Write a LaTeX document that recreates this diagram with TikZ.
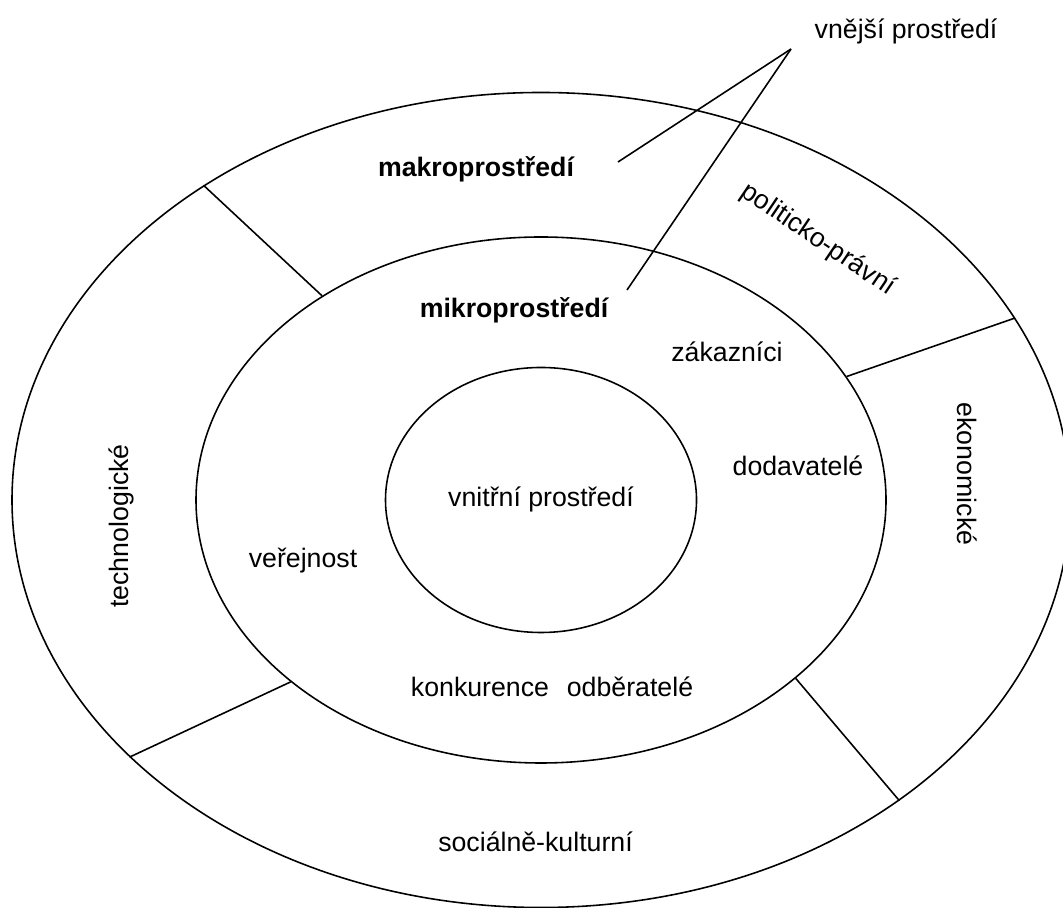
\documentclass[tikz,border=0pt]{standalone}
\usepackage{fontspec}
\setmainfont{Liberation Sans}
\usetikzlibrary{shapes}
\tikzstyle{ring} = [ellipse, draw, line width=0.45pt, inner sep=0pt]
\tikzstyle{word} = [font=\fontsize{7.6}{9}\selectfont, inner sep=0pt, anchor=base]
\tikzstyle{head} = [word, font=\fontsize{7.6}{9}\selectfont\bfseries]
\tikzstyle{line} = [draw, line width=0.45pt]

\begin{document}
\begin{tikzpicture}
    \useasboundingbox (0,0) rectangle (10.63,9.07);
    % Place rings
    \node [ring, minimum width=10.58cm, minimum height=8.15cm] (makro) at (5.41,4.07) {};
    \node [ring, minimum width=6.9cm, minimum height=5.26cm] (mikro) at (5.41,4.07) {};
    \node [ring, minimum width=3.11cm, minimum height=2.65cm] (vnitrni) at (5.41,4.07) {};
    % Place texts
    \node [word] (vnejsi) at (9.06,8.68) {vnější prostředí};
    \node [head] (makrotxt) at (4.76,7.30) {makroprostředí};
    \node [head] (mikrotxt) at (5.14,5.89) {mikroprostředí};
    \node [word, rotate=-34, anchor=center] (politicke) at (8.18,6.67) {politicko-právní};
    \node [word] (zakaznici) at (7.27,5.45) {zákazníci};
    \node [word] (dodavatele) at (7.98,4.31) {dodavatelé};
    \node [word] (vnitrnitxt) at (5.41,4.00) {vnitřní prostředí};
    \node [word] (verejnost) at (3.03,3.39) {veřejnost};
    \node [word] (konkurence) at (4.80,2.10) {konkurence};
    \node [word] (odberatele) at (6.30,2.10) {odběratelé};
    \node [word] (socialni) at (5.355,0.55) {sociálně-kulturní};
    \node [word, rotate=90, anchor=center] (technologicke) at (1.21,3.81) {technologické};
    \node [word, rotate=-90, anchor=center] (ekonomicke) at (9.67,4.33) {ekonomické};
    % Pointer ends
    \coordinate (apex) at (7.91,8.58);
    \coordinate (makrotip) at (6.18,7.45);
    \coordinate (mikrotip) at (6.27,6.17);
    % Draw edges
    \path [line] (apex) -- (makrotip);
    \path [line] (apex) -- (mikrotip);
    \path [line] (mikro.137.5) -- (makro.137.5);
    \path [line] (mikro.22) -- (makro.21);
    \path [line] (mikro.216) -- (makro.212.5);
    \path [line] (mikro.-35.2) -- (makro.-40.4);
\end{tikzpicture}
\end{document}
